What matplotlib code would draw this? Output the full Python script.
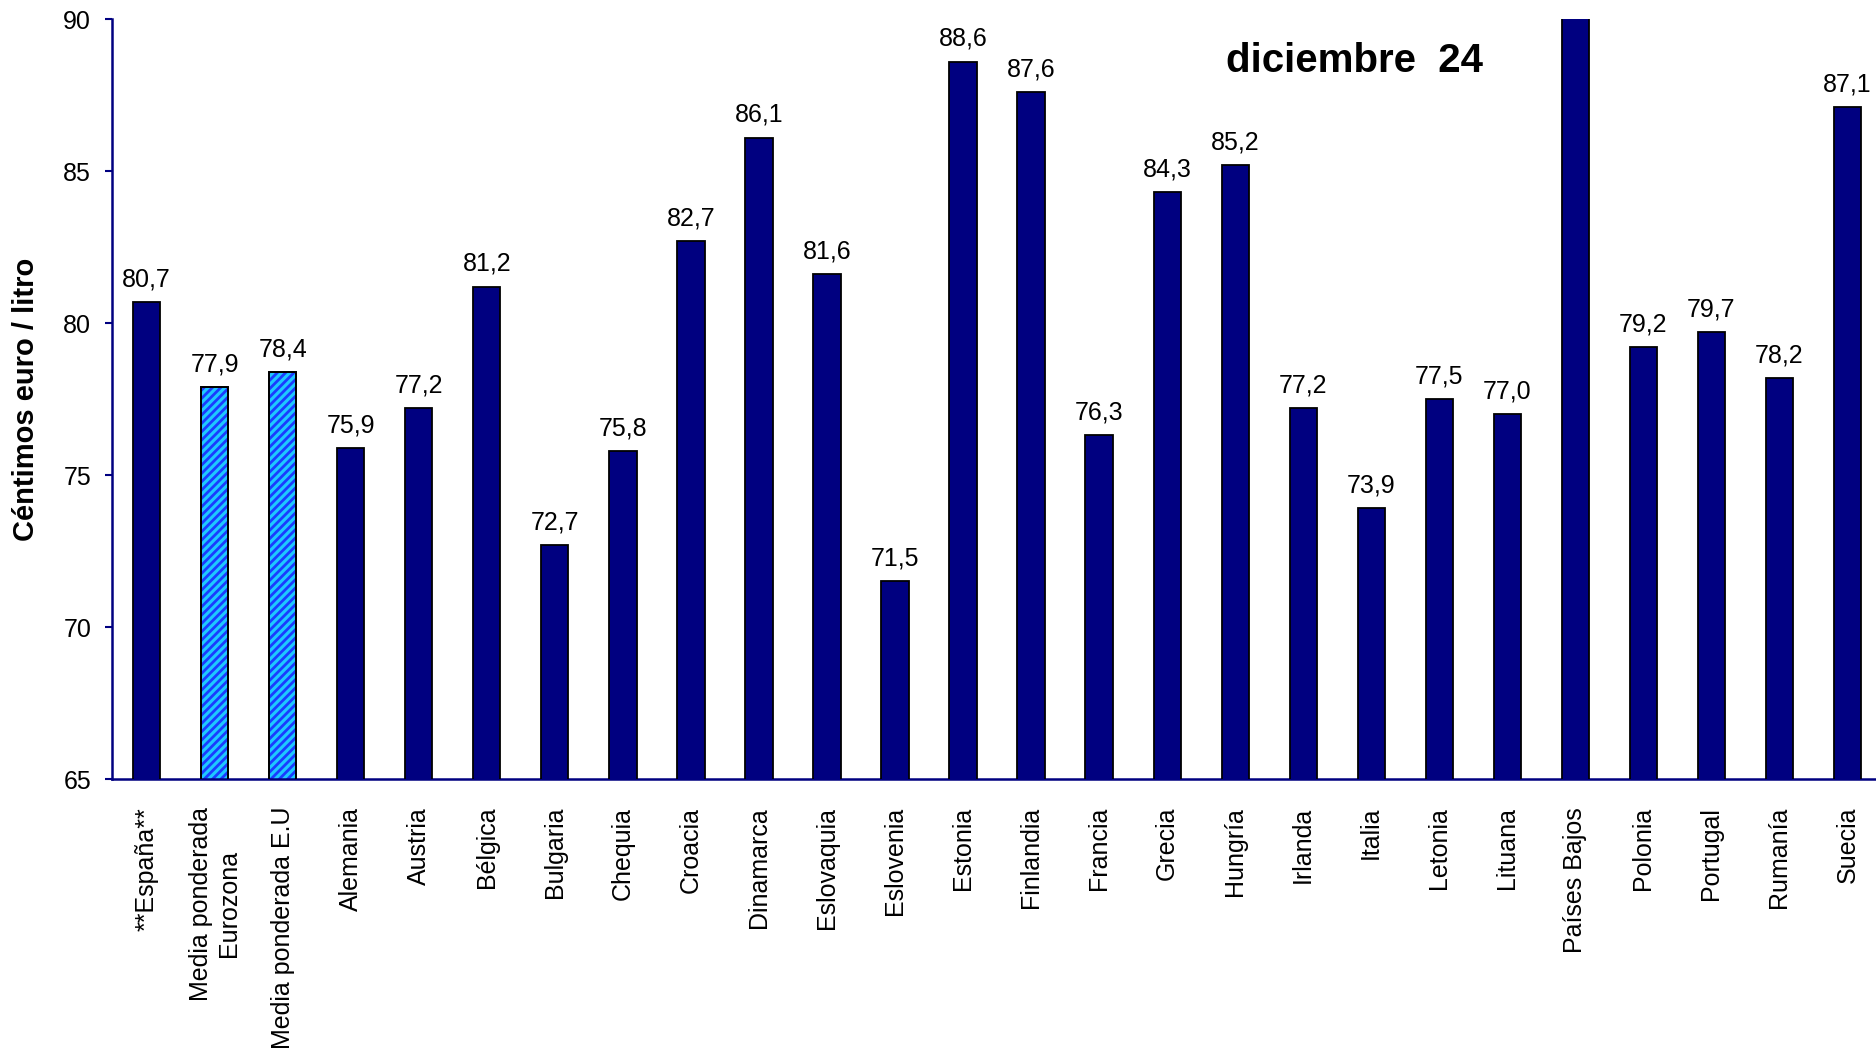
import matplotlib.pyplot as plt
import numpy as np

plt.rcParams['font.family'] = ['Liberation Sans', 'DejaVu Sans']

paises = ['**España**', 'Media ponderada\nEurozona', 'Media ponderada E.U',
          'Alemania', 'Austria', 'Bélgica', 'Bulgaria', 'Chequia', 'Croacia',
          'Dinamarca', 'Eslovaquia', 'Eslovenia', 'Estonia', 'Finlandia',
          'Francia', 'Grecia', 'Hungría', 'Irlanda', 'Italia', 'Letonia',
          'Lituana', 'Países Bajos', 'Polonia', 'Portugal', 'Rumanía', 'Suecia']
precios = [80.7, 77.9, 78.4, 75.9, 77.2, 81.2, 72.7, 75.8, 82.7, 86.1, 81.6,
           71.5, 88.6, 87.6, 76.3, 84.3, 85.2, 77.2, 73.9, 77.5, 77.0, 92.0,
           79.2, 79.7, 78.2, 87.1]
medias = [1, 2]  # indices de las barras de media ponderada

navy = '#000080'
ymin, ymax = 65, 90
x = np.arange(len(paises))

fig = plt.figure(figsize=(18.76, 10.57), dpi=100)
ax = fig.add_axes([0.0597, 0.263, 0.9403, 0.719])

colores = [navy if i not in medias else 'none' for i in x]
ax.bar(x, precios, width=0.4, color=colores, edgecolor='black', linewidth=1.3, zorder=3)

# barras de medias con trama
plt.rcParams['hatch.linewidth'] = 2.0
for i in medias:
    ax.bar(x[i], precios[i], width=0.4, color='#1ec8ff', edgecolor='#1a3cff',
           hatch='////', linewidth=0, zorder=2)
    ax.bar(x[i], precios[i], width=0.4, color='none', edgecolor='black',
           linewidth=1.3, zorder=3)

# etiquetas de valor (la barra fuera de escala no lleva etiqueta)
for xi, v in zip(x, precios):
    if v < ymax:
        ax.text(xi, v + 0.35, f'{v:.1f}'.replace('.', ','), ha='center', va='bottom',
                fontsize=18)

ax.set_ylim(ymin, ymax)
ax.set_xlim(-0.51, 25.42)
ax.set_yticks(np.arange(65, 91, 5))
ax.tick_params(axis='y', labelsize=18, length=5, width=1.5, color=navy, pad=10)
ax.set_xticks(x)
ax.set_xticklabels(paises, rotation=90, fontsize=18, va='top', ha='center',
                   multialignment='center')
ax.tick_params(axis='x', length=0, pad=20)

for s in ['top', 'right']:
    ax.spines[s].set_visible(False)
for s in ['left', 'bottom']:
    ax.spines[s].set_color(navy)
    ax.spines[s].set_linewidth(1.8)

ax.set_ylabel('Céntimos euro / litro', fontsize=21, fontweight='bold')
ax.yaxis.set_label_coords(-0.041, 0.5)

fig.text(1355 / 1876, 1 - 61 / 1057, 'diciembre  24', fontsize=29, fontweight='bold',
         ha='center', va='center')

fig.savefig('out.png', dpi=100)
